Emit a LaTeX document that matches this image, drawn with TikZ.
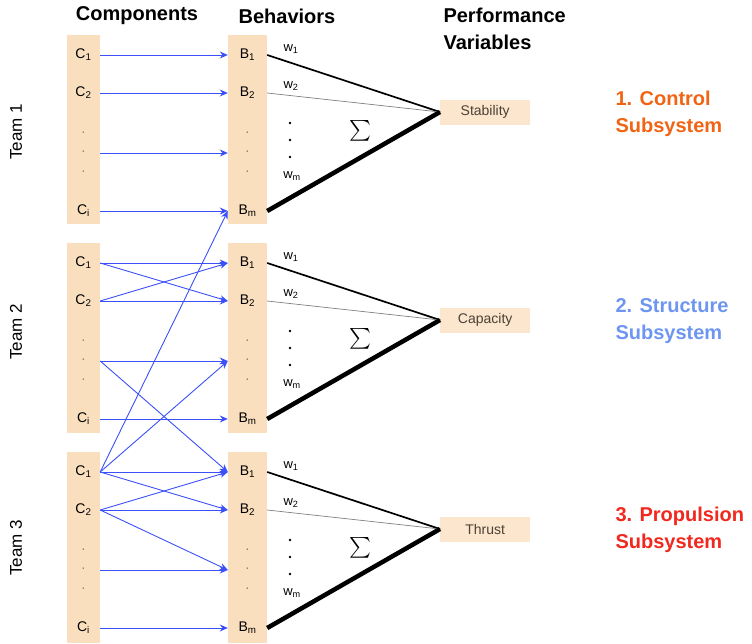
\documentclass[tikz,border=0pt]{standalone}
\usepackage{amsmath}
\usepackage{fontspec}
\setmainfont{Liberation Sans}
\usepackage{xcolor}
\usetikzlibrary{arrows.meta}

\definecolor{peach}{RGB}{250,223,190}
\definecolor{peachlight}{RGB}{252,230,205}
\definecolor{flowblue}{RGB}{60,80,250}
\definecolor{perftext}{RGB}{75,65,55}
\definecolor{ctrlorange}{RGB}{240,100,20}
\definecolor{structblue}{RGB}{110,150,240}
\definecolor{propred}{RGB}{240,40,30}

\begin{document}
\begin{tikzpicture}[x=1pt, y=-1pt, >={Stealth[length=8pt,width=7pt]},
    strip/.style={fill=peach},
    comp/.style={minimum width=33pt, inner sep=0pt, font=\fontsize{14}{16}\selectfont},
    beh/.style={minimum width=39pt, inner sep=0pt, font=\fontsize{14}{16}\selectfont},
    dotlbl/.style={text=gray},
    flow/.style={->, color=flowblue, line width=0.9pt},
    head/.style={font=\bfseries\fontsize{20}{27}\selectfont, align=left},
    team/.style={rotate=90, font=\fontsize{17}{20}\selectfont},
    perf/.style={anchor=west, fill=peachlight, text=perftext, minimum width=90pt,
                 minimum height=25pt, inner sep=0pt, font=\fontsize{14}{16}\selectfont},
    wlbl/.style={inner sep=0pt, font=\fontsize{13}{15}\selectfont},
    sig/.style={font=\fontsize{21}{24}\selectfont},
    wone/.style={line width=1.7pt},
    wtwo/.style={line width=0.7pt, gray},
    wlast/.style={line width=4.5pt},
    subsys/.style={anchor=west, font=\bfseries\fontsize{20}{27}\selectfont, align=left}]

  \useasboundingbox (0,0) rectangle (752,643);

  % headers
  \node[head] (hcomp) at (137,16) {Components};
  \node[head] (hbeh) at (287,16) {Behaviors};
  \node[head, anchor=west] (hperf) at (440,29) {Performance\\Variables};

  % team 1
  \fill[strip] (67,35) rectangle (100,224);
  \fill[strip] (228,35) rectangle (267,224);
  \node[team] (t1) at (16,132) {Team 1};
  \node[comp] (C11) at (83.5,55) {C\textsubscript{1}};
  \node[comp] (C12) at (83.5,93) {C\textsubscript{2}};
  \node[comp, dotlbl] (C1u) at (83.5,134) {·};
  \node[comp, dotlbl] (C1x) at (83.5,153) {·};
  \node[comp, dotlbl] (C1l) at (83.5,173) {·};
  \node[comp] (C1i) at (83.5,211) {C\textsubscript{i}};
  \node[beh] (B11) at (247.5,55) {B\textsubscript{1}};
  \node[beh] (B12) at (247.5,93) {B\textsubscript{2}};
  \node[beh, dotlbl] (B1u) at (247.5,134) {·};
  \node[beh, dotlbl] (B1x) at (247.5,153) {·};
  \node[beh, dotlbl] (B1l) at (247.5,173) {·};
  \node[beh] (B1m) at (247.5,211) {B\textsubscript{m}};
  \node[perf] (stab) at (440,112) {Stability};
  \node[wlbl] (w11) at (291,49) {w\textsubscript{1}};
  \node[wlbl] (w12) at (291,86) {w\textsubscript{2}};
  \node[wlbl] (w1m) at (292,176) {w\textsubscript{m}};
  \fill (290,123) circle (1.3pt) (290,140) circle (1.3pt) (290,157) circle (1.3pt);
  \node[sig] (sum1) at (360,131) {$\sum$};
  \node[subsys, ctrlorange] (sys1) at (612,113.5) {1. Control\\Subsystem};

  % team 2
  \fill[strip] (67,243) rectangle (100,433);
  \fill[strip] (228,243) rectangle (267,433);
  \node[team] (t2) at (16,332) {Team 2};
  \node[comp] (C21) at (83.5,263) {C\textsubscript{1}};
  \node[comp] (C22) at (83.5,301) {C\textsubscript{2}};
  \node[comp, dotlbl] (C2u) at (83.5,342) {·};
  \node[comp, dotlbl] (C2x) at (83.5,361) {·};
  \node[comp, dotlbl] (C2l) at (83.5,381) {·};
  \node[comp] (C2i) at (83.5,419) {C\textsubscript{i}};
  \node[beh] (B21) at (247.5,263) {B\textsubscript{1}};
  \node[beh] (B22) at (247.5,301) {B\textsubscript{2}};
  \node[beh, dotlbl] (B2u) at (247.5,342) {·};
  \node[beh, dotlbl] (B2x) at (247.5,361) {·};
  \node[beh, dotlbl] (B2l) at (247.5,381) {·};
  \node[beh] (B2m) at (247.5,419) {B\textsubscript{m}};
  \node[perf] (capa) at (440,320) {Capacity};
  \node[wlbl] (w21) at (291,257) {w\textsubscript{1}};
  \node[wlbl] (w22) at (291,294) {w\textsubscript{2}};
  \node[wlbl] (w2m) at (292,384) {w\textsubscript{m}};
  \fill (290,331) circle (1.3pt) (290,348) circle (1.3pt) (290,365) circle (1.3pt);
  \node[sig] (sum2) at (360,339) {$\sum$};
  \node[subsys, structblue] (sys2) at (612,321.5) {2. Structure\\Subsystem};

  % team 3
  \fill[strip] (67,452) rectangle (100,643);
  \fill[strip] (228,452) rectangle (267,643);
  \node[team] (t3) at (16,548) {Team 3};
  \node[comp] (C31) at (83.5,472) {C\textsubscript{1}};
  \node[comp] (C32) at (83.5,510) {C\textsubscript{2}};
  \node[comp, dotlbl] (C3u) at (83.5,551) {·};
  \node[comp, dotlbl] (C3x) at (83.5,570) {·};
  \node[comp, dotlbl] (C3l) at (83.5,590) {·};
  \node[comp] (C3i) at (83.5,628) {C\textsubscript{i}};
  \node[beh] (B31) at (247.5,472) {B\textsubscript{1}};
  \node[beh] (B32) at (247.5,510) {B\textsubscript{2}};
  \node[beh, dotlbl] (B3u) at (247.5,551) {·};
  \node[beh, dotlbl] (B3x) at (247.5,570) {·};
  \node[beh, dotlbl] (B3l) at (247.5,590) {·};
  \node[beh] (B3m) at (247.5,628) {B\textsubscript{m}};
  \node[perf] (thru) at (440,529) {Thrust};
  \node[wlbl] (w31) at (291,466) {w\textsubscript{1}};
  \node[wlbl] (w32) at (291,503) {w\textsubscript{2}};
  \node[wlbl] (w3m) at (292,593) {w\textsubscript{m}};
  \fill (290,540) circle (1.3pt) (290,557) circle (1.3pt) (290,574) circle (1.3pt);
  \node[sig] (sum3) at (360,548) {$\sum$};
  \node[subsys, propred] (sys3) at (612,529.5) {3. Propulsion\\Subsystem};

  % weights
  \draw[wone] (B11.east) -- (stab.west);
  \draw[wtwo] (B12.east) -- (stab.west);
  \draw[wlast] (B1m.east) -- (stab.west);
  \draw[wone] (B21.east) -- (capa.west);
  \draw[wtwo] (B22.east) -- (capa.west);
  \draw[wlast] (B2m.east) -- (capa.west);
  \draw[wone] (B31.east) -- (thru.west);
  \draw[wtwo] (B32.east) -- (thru.west);
  \draw[wlast] (B3m.east) -- (thru.west);

  % components to behaviors
  \path[flow]
    (C11.east) edge (B11.west)
    (C12.east) edge (B12.west)
    (C1x.east) edge (B1x.west)
    (C1i.east) edge (B1m.west)
    (C21.east) edge (B21.west)
    (C21.east) edge (B22.west)
    (C22.east) edge (B21.west)
    (C22.east) edge (B22.west)
    (C2x.east) edge (B2x.west)
    (C2i.east) edge (B2m.west)
    (C31.east) edge (B31.west)
    (C31.east) edge (B32.west)
    (C32.east) edge (B31.west)
    (C32.east) edge (B32.west)
    (C32.east) edge (B3x.west)
    (C3x.east) edge (B3x.west)
    (C3i.east) edge (B3m.west)
    (C31.east) edge (B1m.west)
    (C31.east) edge (B2x.west)
    (C2x.east) edge (B31.west);
\end{tikzpicture}
\end{document}
